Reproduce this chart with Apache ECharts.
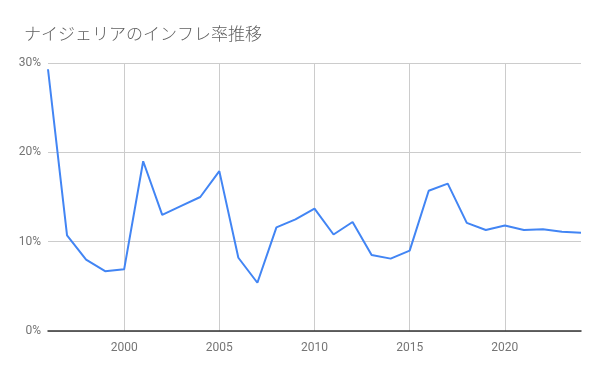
<!DOCTYPE html>
<html>
<head>
<meta charset="utf-8">
<script src="https://cdn.jsdelivr.net/npm/echarts@6/dist/echarts.min.js"></script>
<style>html,body{margin:0;padding:0;background:#fff;}#c{width:600px;height:371px;}</style>
</head>
<body>
<div id="c"></div>
<script>
const titleText = 'ナイジェリアのインフレ率推移';
const years = [1996,1997,1998,1999,2000,2001,2002,2003,2004,2005,2006,2007,2008,2009,2010,2011,2012,2013,2014,2015,2016,2017,2018,2019,2020,2021,2022,2023,2024];
const inflation = [29.3,10.7,8.0,6.7,6.9,19.0,13.0,14.0,15.0,17.9,8.2,5.4,11.6,12.5,13.7,10.8,12.2,8.5,8.1,9.0,15.7,16.5,12.1,11.3,11.8,11.3,11.4,11.1,11.0];
const yTicks = [0,10,20,30];

const chart = echarts.init(document.getElementById('c'));
const showYear = (i) => years[i] % 5 === 0;
chart.setOption({
  animation: false,
  title: {
    text: titleText, left: 19, top: 20,
    textStyle: {fontFamily: 'Noto Sans CJK JP', fontWeight: 300, fontSize: 17, color: '#5f5f5f'}
  },
  grid: {left: 48, right: 19, top: 63, bottom: 40},
  xAxis: {
    type: 'category', data: years.map(String), boundaryGap: false,
    axisLine: {show: true, lineStyle: {color: '#333', width: 1.5}},
    axisTick: {show: false},
    axisLabel: {interval: (i) => showYear(i), color: '#757575', fontFamily: 'Roboto', fontSize: 12, margin: 11},
    splitLine: {show: true, interval: (i) => showYear(i), lineStyle: {color: '#cccccc', width: 1}}
  },
  yAxis: {
    type: 'value', min: yTicks[0], max: yTicks[yTicks.length-1], interval: 10,
    axisLine: {show: false}, axisTick: {show: false},
    axisLabel: {formatter: '{value}%', color: '#757575', fontFamily: 'Roboto', fontSize: 12, margin: 7},
    splitLine: {lineStyle: {color: '#cccccc', width: 1}}
  },
  series: [{
    type: 'line', data: inflation, showSymbol: false, symbol: 'none',
    lineStyle: {color: '#4285F4', width: 2}, z: 5
  }]
});
</script>
</body>
</html>
